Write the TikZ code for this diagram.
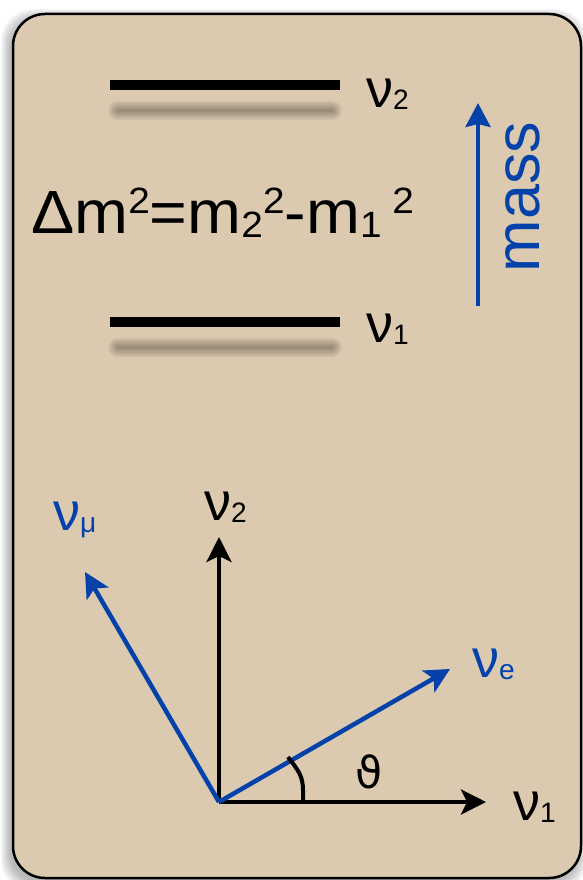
\documentclass[tikz,border=0pt]{standalone}
\usepackage{fontspec}
\setmainfont{Liberation Sans}
\newfontfamily\symfont{DejaVu Sans}
\usetikzlibrary{arrows.meta}
\definecolor{boxfill}{RGB}{219,202,176}
\definecolor{nublue}{RGB}{4,66,170}
\newcommand{\mysub}[1]{\raisebox{-0.05em}{\scalebox{0.52}{#1}}}
\newcommand{\fsub}[1]{\raisebox{-0.07em}{\scalebox{0.6}{#1}}}
\newcommand{\fsup}[1]{\raisebox{0.32em}{\scalebox{0.6}{#1}}}
\begin{document}
\begin{tikzpicture}[x=1pt,y=-1pt,
  level/.style={line width=10pt},
  lvlshadow/.style={black,opacity=0.065,line cap=round},
  lab/.style={inner sep=0pt,font=\fontsize{54}{58}\selectfont},
  axis/.style={line width=4pt,-{Stealth[length=25pt,width=25pt,inset=6pt]}},
  bluevec/.style={line width=4.5pt,nublue,-{Stealth[length=25pt,width=25pt,inset=6pt]}}]
\useasboundingbox (0,0) rectangle (583,880);
% box shadow
\foreach \i in {0,...,9}
  \fill[black,opacity=0.03,rounded corners=32pt] (13-3-\i,13+5-\i) rectangle (581-3+\i,878+5+\i);
% box
\fill[boxfill,draw=black,line width=2.5pt,rounded corners=32pt] (13,14) rectangle (581,878);
% level shadows
\foreach \w in {19,15,11,7,3}{
  \draw[lvlshadow,line width=\w pt] (118,111) -- (332,111);
  \draw[lvlshadow,line width=\w pt] (118,347) -- (332,347);
}
% levels
\coordinate (l2a) at (110,85); \coordinate (l2b) at (340,85);
\coordinate (l1a) at (110,322); \coordinate (l1b) at (340,322);
\draw[level] (l2a) -- (l2b);
\draw[level] (l1a) -- (l1b);
\node[lab,anchor=base west] (n2top) at (366,107) {ν\mysub{2}};
\node[lab,anchor=base west] (n1top) at (366,342) {ν\mysub{1}};
% formula
\node[inner sep=0pt,anchor=base west,font=\fontsize{61}{66}\selectfont] (dm) at (31,233)
  {\scalebox{1.06}[1]{Δm\fsup{2}=m\fsub{2}\fsup{2}-m\fsub{1}\,\fsup{2}}};
% mass arrow
\coordinate (mbot) at (478,306); \coordinate (mtop) at (478,103);
\draw[line width=4pt,nublue,-{Stealth[length=24pt,width=25pt,inset=3pt]}] (mbot) -- (mtop);
\node[inner sep=0pt,rotate=90,anchor=base,text=nublue,font=\fontsize{63}{66}\selectfont] (mass) at (539,197) {mass};
% mixing diagram
\coordinate (o) at (219,802);
\coordinate (v2tip) at (219,537);
\coordinate (v1tip) at (486,802);
\coordinate (vetip) at (450,669);
\coordinate (vmtip) at (85,572);
\draw[axis] (o) -- (v1tip);
\draw[axis] (o) -- (v2tip);
\draw[bluevec] (o) -- (vetip);
\draw[bluevec] (o) -- (vmtip);
\draw[line width=4pt] (288,757) .. controls (298,770) and (303,776) .. (303,790) -- (303,802);
\node[lab,anchor=base west] (v2lab) at (204,520) {ν\mysub{2}};
\node[lab,anchor=base west] (v1lab) at (513,820) {ν\mysub{1}};
\node[lab,anchor=base west,text=nublue] (velab) at (472,677) {ν\mysub{e}};
\node[lab,anchor=base west,text=nublue] (vmlab) at (53,530) {ν\mysub{μ}};
\node[inner sep=0pt,font=\symfont\fontsize{44}{48}\selectfont] (theta) at (369,772) {ϑ};
\end{tikzpicture}
\end{document}
